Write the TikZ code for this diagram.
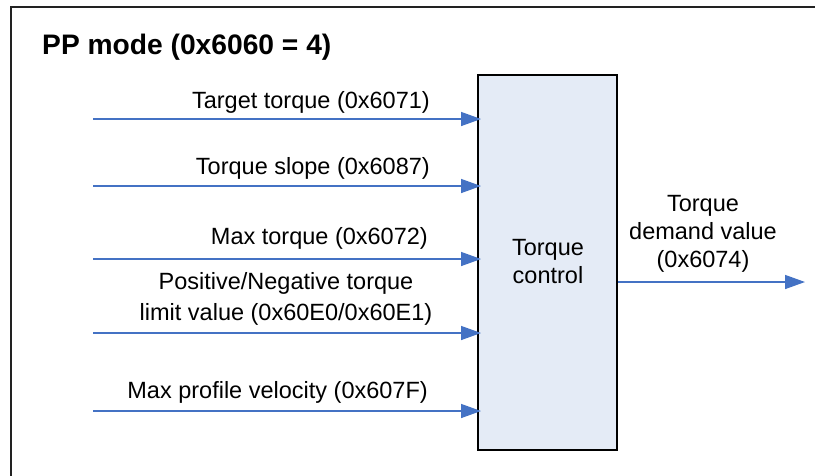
\documentclass[tikz,border=0pt]{standalone}
\usepackage{fontspec}
\setmainfont{Liberation Sans}
\usetikzlibrary{arrows.meta}
\definecolor{arrowblue}{HTML}{4472C4}
\definecolor{boxfill}{HTML}{E4EBF6}
\definecolor{framegray}{HTML}{222222}
\tikzset{
  sig/.style={draw=arrowblue, line width=1.5pt, -{Triangle[length=20pt,width=14pt]}},
  lbl/.style={font=\fontsize{23.5}{31}\selectfont, inner sep=0pt},
  ctrl/.style={draw=black, line width=1.5pt, fill=boxfill},
}
\begin{document}
\begin{tikzpicture}[x=1pt,y=-1pt]
\useasboundingbox (0,0) rectangle (815,475);
\clip (0,0) rectangle (815,475);
% outer frame (open to the right and bottom)
\draw[framegray, line width=2pt] (11,490) -- (11,7) -- (830,7);
\node[anchor=base west, inner sep=0pt, font=\fontsize{28.2}{32}\selectfont\bfseries] (title) at (42,54) {PP mode (0x6060 = 4)};
% control box
\node[ctrl, minimum width=139pt, minimum height=375pt, inner sep=0pt] (box) at (547.5,262.5) {};
\node[lbl, align=center, font=\fontsize{23.5}{28}\selectfont] (boxtxt) at (548,262) {Torque\\control};
% input coordinates
\coordinate (s1) at (93,119);
\coordinate (s2) at (93,186);
\coordinate (s3) at (93,259);
\coordinate (s4) at (93,333);
\coordinate (s5) at (93,411);
\coordinate (e1) at (481,119);
\coordinate (e2) at (481,186);
\coordinate (e3) at (481,259);
\coordinate (e4) at (481,333);
\coordinate (e5) at (481,411);
\draw[sig] (s1) -- (e1);
\draw[sig] (s2) -- (e2);
\draw[sig] (s3) -- (e3);
\draw[sig] (s4) -- (e4);
\draw[sig] (s5) -- (e5);
% labels
\node[lbl, anchor=base east] (l1) at (430,108) {Target torque (0x6071)};
\node[lbl, anchor=base east] (l2) at (430,174) {Torque slope (0x6087)};
\node[lbl, anchor=base east] (l3) at (428,244) {Max torque (0x6072)};
\node[lbl, anchor=base, align=center] (l4) at (286,320) {Positive/Negative torque\\limit value (0x60E0/0x60E1)};
\node[lbl, anchor=base east] (l5) at (428,398) {Max profile velocity (0x607F)};
% output
\coordinate (o) at (805,282);
\draw[sig] (box.east |- o) -- (o);
\node[lbl, anchor=base, align=center, font=\fontsize{23.5}{28}\selectfont] (out) at (703,267) {Torque\\demand value\\(0x6074)};
\end{tikzpicture}
\end{document}
